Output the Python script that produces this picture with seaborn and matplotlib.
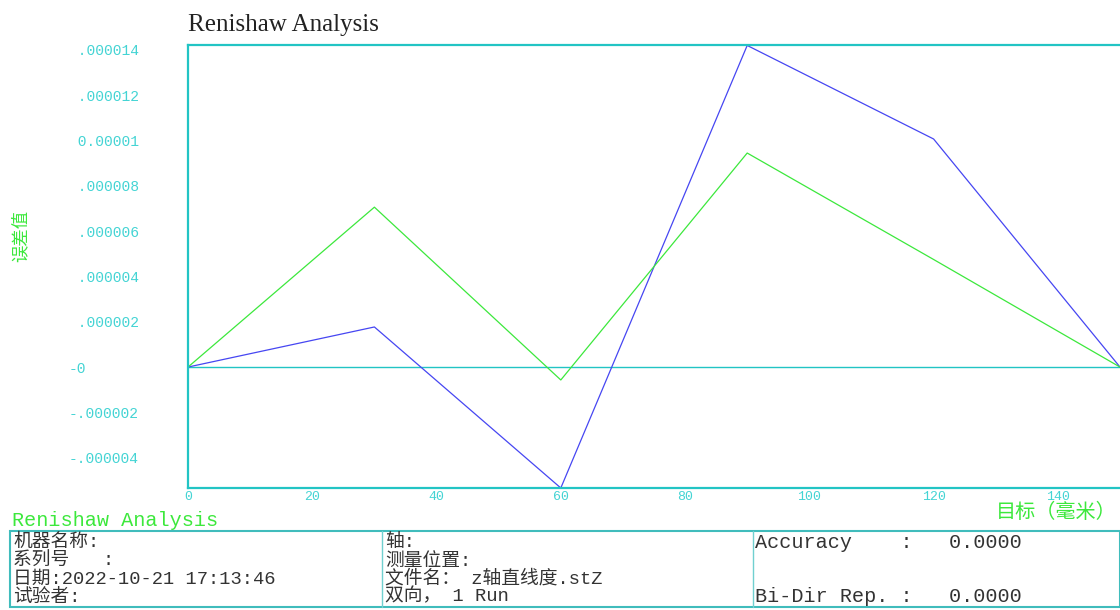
import matplotlib
matplotlib.use("Agg")
import matplotlib.pyplot as plt
import seaborn as sns
import pandas as pd
from matplotlib.patches import Rectangle
from matplotlib.lines import Line2D

# ---- data ----
targets = [0, 30, 60, 90, 120, 150]
series_blue = [0.0, 1.77e-6, -5.34e-6, 14.2e-6, 10.07e-6, 0.0]
series_green = [0.0, 7.06e-6, -0.57e-6, 9.45e-6, 4.75e-6, 0.0]
x_ticks = [0, 20, 40, 60, 80, 100, 120, 140]
y_ticks = [-4e-6, -2e-6, 0, 2e-6, 4e-6, 6e-6, 8e-6, 10e-6, 12e-6, 14e-6]
y_tick_labels = ["-.000004", "-.000002", "-0", ".000002", ".000004", ".000006",
                 ".000008", "0.00001", ".000012", ".000014"]
info_col1 = ["机器名称:", "系列号   :", "日期:2022-10-21 17:13:46", "试验者:"]
info_col2 = ["轴:", "测量位置:", "文件名： z轴直线度.stZ", "双向， 1 Run"]
info_col3 = ["Accuracy    :   0.0000", "", "", "Bi-Dir Rep. :   0.0000"]

sns.set_theme(style="white")
plt.rcParams['font.family'] = ['Noto Sans CJK SC', 'DejaVu Sans']

W, H = 1120, 610
fig = plt.figure(figsize=(W / 100, H / 100), dpi=100)
ax = fig.add_axes([188 / W, 1 - 488 / H, 1 - 188 / W, (488 - 45) / H])

CYAN = "#22c4c4"
TICKC = "#44d4d4"
BLUE = "#4646f2"
GREEN = "#3ce83c"

df = pd.DataFrame({
    "target": targets * 2,
    "error": series_blue + series_green,
    "run": ["blue"] * len(targets) + ["green"] * len(targets),
})
sns.lineplot(data=df, x="target", y="error", hue="run",
             palette={"blue": BLUE, "green": GREEN}, linewidth=0.9,
             legend=False, ax=ax, sort=False)
ax.axhline(0, color=CYAN, linewidth=1.0, zorder=1)

ax.set_xlim(0, 150)
ax.set_ylim(-5.34e-6, 14.22e-6)
ax.set_xticks(x_ticks)
ax.set_xticklabels([str(v) for v in x_ticks])
ax.set_yticks(y_ticks)
# hang the minus sign to the left of the column (left-aligned labels)
ax.set_yticklabels([s if s.startswith("-") else " " + s for s in y_tick_labels])
ax.set_xlabel("")
ax.set_ylabel("")

for side in ["left", "bottom", "top"]:
    ax.spines[side].set_color(CYAN)
    ax.spines[side].set_linewidth(1.6)
ax.spines["right"].set_visible(False)

ax.tick_params(axis="both", which="both", direction="in", length=3, width=1,
               color="#ff5050", labelcolor=TICKC)
ax.tick_params(axis="x", pad=2, labelsize=9.5)
ax.tick_params(axis="y", pad=86, labelsize=10.5)
for lab in ax.get_xticklabels() + ax.get_yticklabels():
    lab.set_family(["Liberation Mono", "DejaVu Sans Mono"])
for lab in ax.get_yticklabels():
    lab.set_horizontalalignment("left")


def fx(x):
    return x / W


def fy(y):
    return 1 - y / H


# title
fig.text(fx(188), fy(25), "Renishaw Analysis", fontsize=18, color="#222222",
         family=["Liberation Serif"], va="center", ha="left")

# axis labels
fig.text(fx(1117), fy(512), "目标（毫米）", fontsize=14.5, color=GREEN,
         va="center", ha="right")
fig.text(fx(21), fy(236), "误差值", fontsize=12.5, color=GREEN, rotation=90,
         va="center", ha="center")

# footer heading
fig.text(fx(12), fy(521), "Renishaw Analysis", fontsize=14.5, color=GREEN,
         family=["Liberation Mono"], va="center", ha="left")

# footer table
fig.patches.append(Rectangle((fx(10), fy(607)), fx(1120) - fx(10), fy(531) - fy(607),
                             transform=fig.transFigure, fill=False,
                             edgecolor="#40bcbc", linewidth=1.5))
for xv in [382, 753]:
    fig.lines.append(Line2D([fx(xv), fx(xv)], [fy(531), fy(607)],
                            transform=fig.transFigure, color="#70d0d0", linewidth=1.0))

rows_y = [542, 561, 579, 597]
fam = ["Liberation Mono", "Noto Sans CJK SC"]
for i, yv in enumerate(rows_y):
    fig.text(fx(13), fy(yv), info_col1[i], fontsize=13.5, color="#333333",
             family=fam, va="center", ha="left")
    fig.text(fx(385), fy(yv), info_col2[i], fontsize=13.5, color="#333333",
             family=fam, va="center", ha="left")
    if info_col3[i]:
        fig.text(fx(755), fy(yv), info_col3[i], fontsize=14.5, color="#333333",
                 family=["Liberation Mono"], va="center", ha="left")

fig.savefig("out.png", dpi=100)
